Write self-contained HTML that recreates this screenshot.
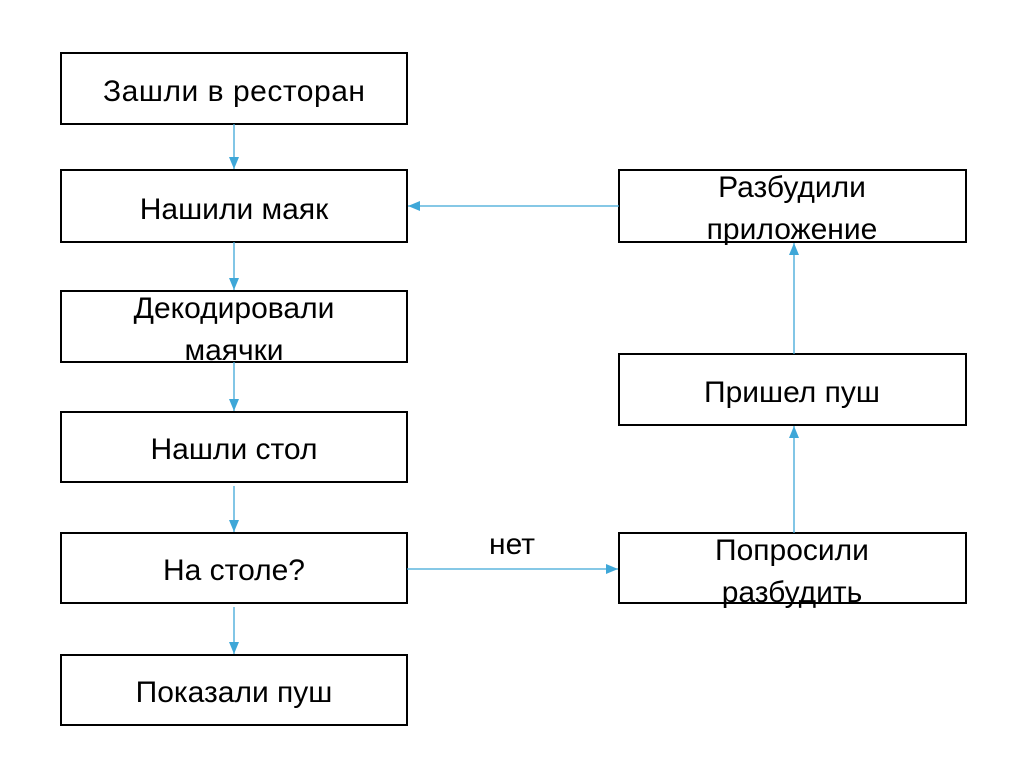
<!DOCTYPE html>
<html><head><meta charset="utf-8"><style>
html,body{margin:0;padding:0;background:#fff;}
svg{display:block;}
text{font-family:"Liberation Sans",sans-serif;font-size:30px;fill:#000;text-anchor:middle;}
</style></head><body>
<svg width="1024" height="768" viewBox="0 0 1024 768">
<defs><marker id="a" markerWidth="12" markerHeight="10" refX="12" refY="5" orient="auto" markerUnits="userSpaceOnUse"><path d="M0,0 L12,5 L0,10 Z" fill="#3ea7d8"/></marker></defs>
<g fill="none" stroke="#000" stroke-width="2">
<rect x="61" y="53" width="346" height="71"/>
<rect x="61" y="170" width="346" height="72"/>
<rect x="61" y="291" width="346" height="71"/>
<rect x="61" y="412" width="346" height="70"/>
<rect x="61" y="533" width="346" height="70"/>
<rect x="61" y="655" width="346" height="70"/>
<rect x="619" y="170" width="347" height="72"/>
<rect x="619" y="354" width="347" height="71"/>
<rect x="619" y="533" width="347" height="70"/>
</g>
<g stroke="#3ea7d8" stroke-width="1.3" marker-end="url(#a)">
<line x1="234" y1="124" x2="234" y2="169"/>
<line x1="234" y1="242" x2="234" y2="290"/>
<line x1="234" y1="362" x2="234" y2="411"/>
<line x1="234" y1="486" x2="234" y2="532"/>
<line x1="234" y1="607" x2="234" y2="654"/>
<line x1="619" y1="206" x2="408" y2="206"/>
<line x1="407" y1="569" x2="618" y2="569"/>
<line x1="794" y1="533" x2="794" y2="426"/>
<line x1="794" y1="354" x2="794" y2="243"/>
</g>
<text x="234" y="101" textLength="262">Зашли в ресторан</text>
<text x="234" y="219">Нашили маяк</text>
<text x="234" y="318">Декодировали</text>
<text x="234" y="360">маячки</text>
<text x="234" y="459">Нашли стол</text>
<text x="234" y="580">На столе?</text>
<text x="234" y="702">Показали пуш</text>
<text x="792" y="197">Разбудили</text>
<text x="792" y="239">приложение</text>
<text x="792" y="402">Пришел пуш</text>
<text x="792" y="560">Попросили</text>
<text x="792" y="602">разбудить</text>
<text x="512" y="554">нет</text>
</svg>
</body></html>
